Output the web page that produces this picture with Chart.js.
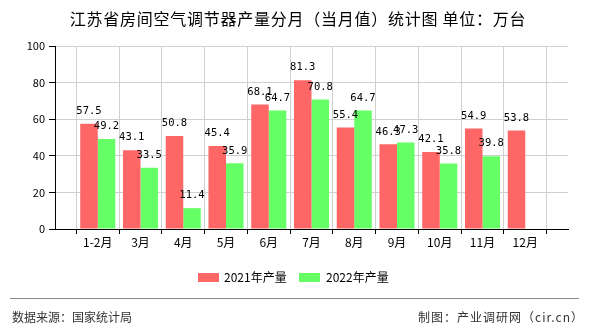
<!DOCTYPE html>
<html>
<head>
<meta charset="utf-8">
<script src="https://cdn.jsdelivr.net/npm/chart.js@4.4.1/dist/chart.umd.min.js"></script>
<style>
  html, body { margin: 0; padding: 0; background: #fff; }
  #wrap { position: relative; width: 590px; height: 330px; overflow: hidden; font-family: "Noto Sans CJK SC", sans-serif; }
  #c { position: absolute; left: 0; top: 0; }
  #title { position: absolute; left: 0; top: 7px; width: 596px; text-align: center; font-size: 16px; line-height: 22px; letter-spacing: 0.75px; color: #000; }
  .lg-box { position: absolute; width: 21px; height: 9px; top: 273px; }
  .lg-txt { position: absolute; top: 269px; font-size: 12px; line-height: 16px; color: #000; }
  #rule { position: absolute; left: 10px; top: 298px; width: 569px; height: 1px; background: #8a8a8a; }
  .foot { position: absolute; top: 308px; font-size: 12px; line-height: 18px; color: #333; }
</style>
</head>
<body>
<div id="wrap">
  <canvas id="c" width="590" height="330"></canvas>
  <div id="title">江苏省房间空气调节器产量分月（当月值）统计图 单位：万台</div>
  <div class="lg-box" style="left:198px;background:#ff6666"></div>
  <div class="lg-txt" style="left:224px">2021年产量</div>
  <div class="lg-box" style="left:299px;background:#66ff66"></div>
  <div class="lg-txt" style="left:326px">2022年产量</div>
  <div id="rule"></div>
  <div class="foot" style="left:12px">数据来源：国家统计局</div>
  <div class="foot" style="right:6px;letter-spacing:1px">制图：产业调研网（cir.cn）</div>
</div>
<script>
// Data
const categories = ['', '1-2月', '3月', '4月', '5月', '6月', '7月', '8月', '9月', '10月', '11月', '12月', ''];
const series2021 = [null, 57.5, 43.1, 50.8, 45.4, 68.1, 81.3, 55.4, 46.3, 42.1, 54.9, 53.8, null];
const series2022 = [null, 49.2, 33.5, 11.4, 35.9, 64.7, 70.8, 64.7, 47.3, 35.8, 39.8, null, null];
const seriesNames = ['2021年产量', '2022年产量'];
const yTicks = [0, 20, 40, 60, 80, 100];

const valueLabels = {
  id: 'valueLabels',
  afterDatasetsDraw(chart) {
    const ctx = chart.ctx;
    ctx.save();
    ctx.font = '10.5px "DejaVu Sans Mono", monospace';
    ctx.fillStyle = '#000';
    ctx.textAlign = 'center';
    ctx.textBaseline = 'middle';
    chart.data.datasets.forEach((ds, di) => {
      const meta = chart.getDatasetMeta(di);
      meta.data.forEach((bar, i) => {
        const v = ds.data[i];
        if (v === null || v === undefined) return;
        ctx.fillText(v.toFixed(1), bar.x, bar.y - 12.5);
      });
    });
    ctx.restore();
  }
};

new Chart(document.getElementById('c'), {
  type: 'bar',
  data: {
    labels: categories,
    datasets: [
      { label: seriesNames[0], data: series2021, backgroundColor: '#ff6666', borderWidth: 0 },
      { label: seriesNames[1], data: series2022, backgroundColor: '#66ff66', borderWidth: 0 }
    ]
  },
  options: {
    responsive: false,
    animation: false,
    devicePixelRatio: 1,
    layout: { padding: { left: 0, right: 22, top: 46, bottom: 76 } },
    plugins: { legend: { display: false }, title: { display: false }, tooltip: { enabled: false } },
    datasets: { bar: { categoryPercentage: 0.82, barPercentage: 1 } },
    scales: {
      x: {
        type: 'category',
        offset: false,
        grid: { color: '#d0d0d0', tickColor: '#000', tickLength: 5, drawOnChartArea: true },
        border: { color: '#000', width: 1 },
        ticks: { color: '#000', font: { family: 'Noto Sans CJK SC', size: 12 }, padding: 1, maxRotation: 0, autoSkip: false },
        afterFit(scale) { scale.height = 25; }
      },
      y: {
        min: 0, max: 100,
        afterBuildTicks(scale) { scale.ticks = yTicks.map(v => ({ value: v })); },
        grid: { color: '#d0d0d0', tickColor: '#000', tickLength: 6 },
        border: { color: '#000', width: 1 },
        ticks: { color: '#000', font: { family: 'Noto Sans CJK SC', size: 11 }, padding: 4 },
        afterFit(scale) { scale.width = 55; }
      }
    }
  },
  plugins: [valueLabels]
});
</script>
</body>
</html>
